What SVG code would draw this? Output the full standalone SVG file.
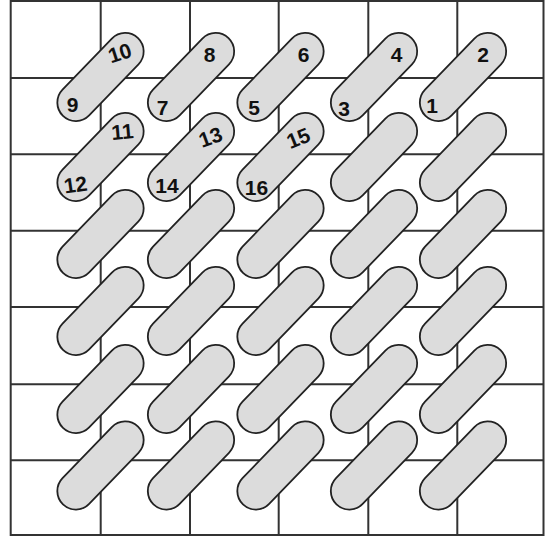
<svg xmlns="http://www.w3.org/2000/svg" xmlns:xlink="http://www.w3.org/1999/xlink" width="548" height="537" viewBox="0 0 548 537">
<style>
.grid{stroke:#333;stroke-width:2;fill:none}
.pill{fill:#dcdcdc;stroke:#222;stroke-width:1.8}
.lbl{font-family:"Liberation Sans",Arial,sans-serif;font-weight:bold;font-size:21px;fill:#111;text-anchor:middle}
</style>
<defs>
<rect id="cap" x="-54" y="-18.5" width="108" height="37" rx="18.5" ry="18.5" transform="rotate(-46)"/>
</defs>
<rect width="548" height="537" fill="#fff"/>
<g id="grid" class="grid">
<rect x="10.7" y="1" width="532.8" height="534"/>
<line x1="100.7" y1="1" x2="100.7" y2="535"/>
<line x1="190" y1="1" x2="190" y2="535"/>
<line x1="278.7" y1="1" x2="278.7" y2="535"/>
<line x1="368.3" y1="1" x2="368.3" y2="535"/>
<line x1="457.3" y1="1" x2="457.3" y2="535"/>
<line x1="10.7" y1="78" x2="543.5" y2="78"/>
<line x1="10.7" y1="154.3" x2="543.5" y2="154.3"/>
<line x1="10.7" y1="230.7" x2="543.5" y2="230.7"/>
<line x1="10.7" y1="307" x2="543.5" y2="307"/>
<line x1="10.7" y1="384.3" x2="543.5" y2="384.3"/>
<line x1="10.7" y1="460.3" x2="543.5" y2="460.3"/>
</g>
<g id="connectors"></g>
<g id="pills" class="pill">
<g id="p-r1c1"><use xlink:href="#cap" transform="translate(100.5,77)"/></g>
<g id="p-r1c2"><use xlink:href="#cap" transform="translate(191,77)"/></g>
<g id="p-r1c3"><use xlink:href="#cap" transform="translate(280.5,77)"/></g>
<g id="p-r1c4"><use xlink:href="#cap" transform="translate(374,77)"/></g>
<g id="p-r1c5"><use xlink:href="#cap" transform="translate(463,77)"/></g>
<g id="p-r2c1"><use xlink:href="#cap" transform="translate(100.5,157)"/></g>
<g id="p-r2c2"><use xlink:href="#cap" transform="translate(191,157)"/></g>
<g id="p-r2c3"><use xlink:href="#cap" transform="translate(280.5,157)"/></g>
<g id="p-r2c4"><use xlink:href="#cap" transform="translate(374,157)"/></g>
<g id="p-r2c5"><use xlink:href="#cap" transform="translate(463,157)"/></g>
<g id="p-r3c1"><use xlink:href="#cap" transform="translate(100.5,234)"/></g>
<g id="p-r3c2"><use xlink:href="#cap" transform="translate(191,234)"/></g>
<g id="p-r3c3"><use xlink:href="#cap" transform="translate(280.5,234)"/></g>
<g id="p-r3c4"><use xlink:href="#cap" transform="translate(374,234)"/></g>
<g id="p-r3c5"><use xlink:href="#cap" transform="translate(463,234)"/></g>
<g id="p-r4c1"><use xlink:href="#cap" transform="translate(100.5,311)"/></g>
<g id="p-r4c2"><use xlink:href="#cap" transform="translate(191,311)"/></g>
<g id="p-r4c3"><use xlink:href="#cap" transform="translate(280.5,311)"/></g>
<g id="p-r4c4"><use xlink:href="#cap" transform="translate(374,311)"/></g>
<g id="p-r4c5"><use xlink:href="#cap" transform="translate(463,311)"/></g>
<g id="p-r5c1"><use xlink:href="#cap" transform="translate(100.5,389)"/></g>
<g id="p-r5c2"><use xlink:href="#cap" transform="translate(191,389)"/></g>
<g id="p-r5c3"><use xlink:href="#cap" transform="translate(280.5,389)"/></g>
<g id="p-r5c4"><use xlink:href="#cap" transform="translate(374,389)"/></g>
<g id="p-r5c5"><use xlink:href="#cap" transform="translate(463,389)"/></g>
<g id="p-r6c1"><use xlink:href="#cap" transform="translate(100.5,465.5)"/></g>
<g id="p-r6c2"><use xlink:href="#cap" transform="translate(191,465.5)"/></g>
<g id="p-r6c3"><use xlink:href="#cap" transform="translate(280.5,465.5)"/></g>
<g id="p-r6c4"><use xlink:href="#cap" transform="translate(374,465.5)"/></g>
<g id="p-r6c5"><use xlink:href="#cap" transform="translate(463,465.5)"/></g>
</g>
<g id="labels" class="lbl">
<text transform="translate(122,60) rotate(-18)">10</text>
<text x="72.5" y="112">9</text>
<text x="209.5" y="62">8</text>
<text x="162.5" y="115">7</text>
<text x="303.5" y="62">6</text>
<text x="254" y="115">5</text>
<text x="396.5" y="62">4</text>
<text x="344" y="116">3</text>
<text x="483" y="62">2</text>
<text x="432" y="113">1</text>
<text transform="translate(123,139) rotate(-5)">11</text>
<text transform="translate(76.5,192) rotate(-8)">12</text>
<text transform="translate(213,144) rotate(-20)">13</text>
<text x="167" y="193">14</text>
<text transform="translate(301,145) rotate(-22)">15</text>
<text x="256.5" y="195">16</text>
</g>
</svg>
